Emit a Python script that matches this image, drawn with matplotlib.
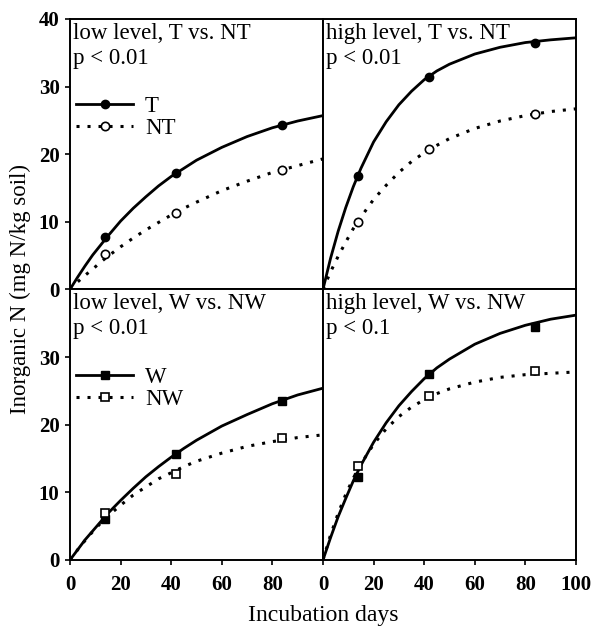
import matplotlib
matplotlib.use("Agg")
import matplotlib.pyplot as plt

plt.rcParams['font.family'] = ['Liberation Serif', 'DejaVu Serif']

# measured incubation points
days = [14, 42, 84]
obs_T_low = [7.8, 17.2, 24.3]
obs_NT_low = [5.3, 11.3, 17.6]
obs_T_high = [16.7, 31.4, 36.4]
obs_NT_high = [9.9, 20.7, 26.0]
obs_W_low = [6.0, 15.6, 23.5]
obs_NW_low = [6.9, 12.7, 18.1]
obs_W_high = [12.3, 27.5, 34.4]
obs_NW_high = [13.9, 24.3, 27.9]

# fitted curves
fit_days = [0, 3, 6, 9, 12, 15, 20, 25, 30, 35, 40, 45, 50, 60, 70, 80, 90, 100]
fit_T_low = [0, 1.8, 3.5, 5.1, 6.5, 7.9, 10.1, 12.0, 13.7, 15.3, 16.7, 17.9, 19.1,
             21.0, 22.6, 23.9, 24.9, 25.7]
fit_NT_low = [0, 1.1, 2.1, 3.0, 4.0, 4.9, 6.3, 7.6, 8.8, 9.9, 11.0, 12.0, 12.9,
              14.6, 16.0, 17.3, 18.3, 19.3]
fit_T_high = [0, 4.6, 8.6, 12.1, 15.2, 17.9, 21.8, 24.8, 27.3, 29.3, 31.0, 32.3, 33.3,
              34.8, 35.8, 36.5, 36.9, 37.2]
fit_NT_high = [0, 2.6, 4.9, 7.0, 9.0, 10.7, 13.3, 15.4, 17.3, 18.9, 20.2, 21.3, 22.3,
               23.8, 24.9, 25.7, 26.3, 26.7]
fit_W_low = [0, 1.5, 3.0, 4.3, 5.6, 6.9, 8.8, 10.6, 12.3, 13.8, 15.2, 16.5, 17.7,
             19.8, 21.5, 23.1, 24.4, 25.4]
fit_NW_low = [0, 1.5, 2.9, 4.2, 5.4, 6.5, 8.1, 9.6, 10.8, 12.0, 12.9, 13.8, 14.6,
              15.8, 16.8, 17.5, 18.1, 18.5]
fit_W_high = [0, 3.3, 6.4, 9.1, 11.7, 14.0, 17.4, 20.3, 22.8, 24.9, 26.8, 28.4, 29.7,
              31.9, 33.5, 34.7, 35.6, 36.2]
fit_NW_high = [0, 3.7, 6.9, 9.7, 12.1, 14.2, 17.1, 19.4, 21.2, 22.6, 23.7, 24.6, 25.3,
               26.3, 27.0, 27.4, 27.6, 27.8]

titles = ["low level, T vs. NT", "high level, T vs. NT",
          "low level, W vs. NW", "high level, W vs. NW"]
pvals = ["p < 0.01", "p < 0.01", "p < 0.01", "p < 0.1"]
x_ticks = [0, 20, 40, 60, 80, 100]
y_ticks = [0, 10, 20, 30, 40]

panels = [
    (fit_T_low, obs_T_low, fit_NT_low, obs_NT_low, 'o', ('T', 'NT')),
    (fit_T_high, obs_T_high, fit_NT_high, obs_NT_high, 'o', None),
    (fit_W_low, obs_W_low, fit_NW_low, obs_NW_low, 's', ('W', 'NW')),
    (fit_W_high, obs_W_high, fit_NW_high, obs_NW_high, 's', None),
]

fig, axes = plt.subplots(2, 2, figsize=(5.95, 6.29), dpi=100)
fig.subplots_adjust(left=0.1176, right=0.968, top=0.970, bottom=0.1097,
                    wspace=0, hspace=0)

dots = (0, (1.0, 2.6))
for i, ax in enumerate(axes.flat):
    fit_a, obs_a, fit_b, obs_b, mk, labels = panels[i]
    ax.plot(fit_days, fit_a, color='black', lw=2.0, zorder=3)
    ax.plot(fit_days, fit_b, color='black', lw=2.2, linestyle=dots, zorder=3)
    ax.plot(days, obs_a, linestyle='none', marker=mk, ms=6, color='black', zorder=4)
    ax.plot(days, obs_b, linestyle='none', marker=mk, ms=6, mfc='white',
            mec='black', mew=1.2, zorder=4)

    ax.set_xlim(0, 100)
    ax.set_ylim(0, 40)
    ax.text(0.012, 0.985, titles[i] + "\n" + pvals[i], transform=ax.transAxes,
            ha='left', va='top', fontsize=16.5, linespacing=1.25)

    if labels:
        h1, = ax.plot([], [], color='black', lw=2.0, marker=mk, ms=6)
        h2, = ax.plot([], [], color='black', lw=2.2, linestyle=dots, marker=mk,
                      ms=6, mfc='white', mec='black', mew=1.2)
        ax.legend([h1, h2], labels, loc='upper left', bbox_to_anchor=(-0.03, 0.765),
                  frameon=False, fontsize=16.5, handlelength=2.5, handletextpad=0.5,
                  labelspacing=0.05, borderaxespad=0.2)

    for s in ax.spines.values():
        s.set_linewidth(1.4)
    ax.tick_params(direction='out', length=3.5, width=1.2, labelsize=15, pad=4)
    ax.tick_params(axis='x', pad=7)

    row, col = divmod(i, 2)
    if col == 0:
        ax.set_yticks(y_ticks if row == 0 else y_ticks[:-1])
    else:
        ax.set_yticks([])
    if row == 1:
        ax.set_xticks(x_ticks if col == 1 else x_ticks[:-1])
    else:
        ax.set_xticks([])
    for lab in ax.get_xticklabels() + ax.get_yticklabels():
        lab.set_fontweight('bold')

fig.text(0.034, 0.54, "Inorganic N (mg N/kg soil)", rotation=90,
         ha='center', va='center', fontsize=16.5)
fig.text(0.543, 0.022, "Incubation days", ha='center', va='center', fontsize=17)

fig.savefig("out.png", dpi=100)
